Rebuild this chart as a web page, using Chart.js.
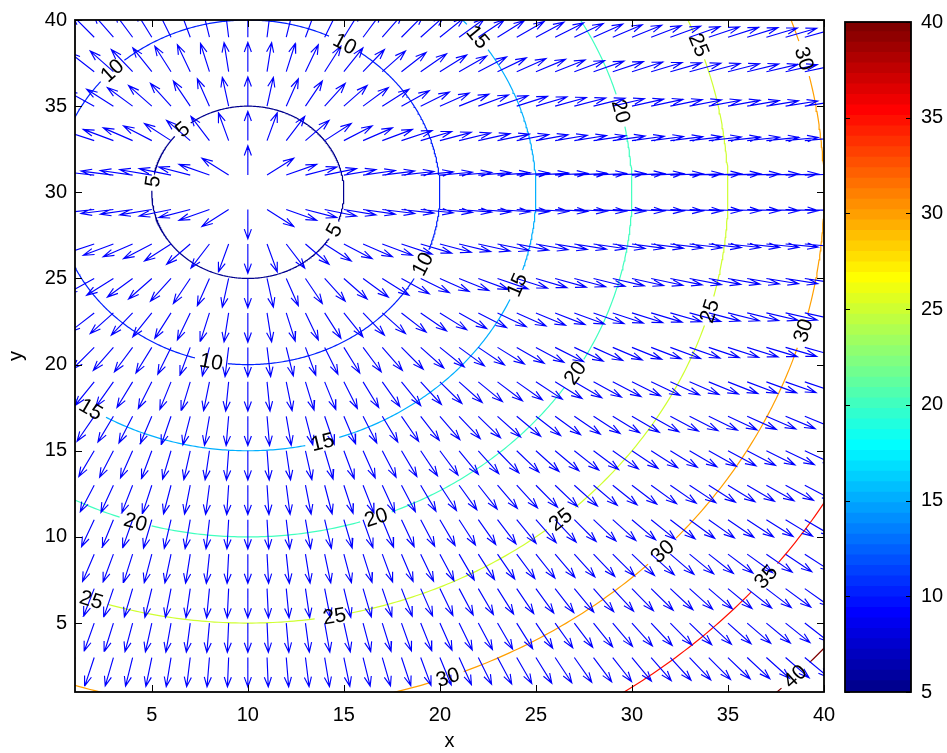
<!DOCTYPE html>
<html>
<head>
<meta charset="utf-8">
<script src="https://cdn.jsdelivr.net/npm/chart.js@4.4.1/dist/chart.umd.min.js"></script>
<style>
  html, body { margin: 0; padding: 0; background: #fff; }
  #wrap { position: relative; width: 947px; height: 753px; }
  #main, #cbar { position: absolute; top: 0; }
  #main { left: 0; }
  #cbar { left: 830px; }
</style>
</head>
<body>
<div id="wrap">
  <canvas id="main" width="947" height="753"></canvas>
  <canvas id="cbar" width="117" height="753"></canvas>
</div>
<script>
// distance field centred on one point, contoured every 5 and shown with its gradient arrows
const center = [10, 30];
const levels = [5, 10, 15, 20, 25, 30, 35, 40];
const gridX = [1, 2, 3, 4, 5, 6, 7, 8, 9, 10, 11, 12, 13, 14, 15, 16, 17, 18, 19, 20,
  21, 22, 23, 24, 25, 26, 27, 28, 29, 30, 31, 32, 33, 34, 35, 36, 37, 38, 39, 40];
const gridY = [1, 3, 5, 7, 9, 11, 13, 15, 17, 19, 21, 23, 25, 27, 29, 31, 33, 35, 37, 39];
const xTicks = [5, 10, 15, 20, 25, 30, 35, 40];
const yTicks = [5, 10, 15, 20, 25, 30, 35, 40];
const cbarTicks = [5, 10, 15, 20, 25, 30, 35, 40];
const cRange = [5, 40];

// where the inline contour labels sit (angle round the centre, degrees)
const labelAngles = {
  5: [133, 172.6, -26],
  10: [135, 59.6, -24.6, -101],
  15: [37, -21, -123, -75],
  20: [13.6, -31.6, -107, -70.5],
  25: [20, -16, -49.4, -79.6, -109],
  30: [15, -15.5, -44, -69.7],
  35: [-39.6],
  40: [-44.6]
};

const FONT = '"Liberation Sans", Arial, Helvetica, sans-serif';
const font20 = { family: FONT, size: 20 };

// matlab jet(64)
function jet(m) {
  const n = Math.ceil(m / 4);
  const u = [];
  for (let i = 1; i <= n; i++) u.push(i / n);
  for (let i = 1; i < n; i++) u.push(1);
  for (let i = n; i >= 1; i--) u.push(i / n);
  const g0 = Math.ceil(n / 2) - (m % 4 === 1 ? 1 : 0);
  const J = Array.from({ length: m }, () => [0, 0, 0]);
  u.forEach((val, k) => {
    const g = g0 + k + 1, r = g + n, b = g - n;
    if (g >= 1 && g <= m) J[g - 1][1] = val;
    if (r >= 1 && r <= m) J[r - 1][0] = val;
    if (b >= 1 && b <= m) J[b - 1][2] = val;
  });
  return J.map(c => `rgb(${Math.round(c[0] * 255)},${Math.round(c[1] * 255)},${Math.round(c[2] * 255)})`);
}
const cmap = jet(64);
const levelColor = lev => {
  let i = Math.floor((lev - cRange[0]) / (cRange[1] - cRange[0]) * 64);
  return cmap[Math.max(0, Math.min(63, i))];
};

// arrows
const dist = (x, y) => Math.hypot(x - center[0], y - center[1]);
const arrowLen = 1.7, headA = 0.33, headB = 0.33;
const gap = () => ({ x: NaN, y: NaN });
const arrowPts = [];
gridY.forEach(y => gridX.forEach(x => {
  let u = (dist(x + 1, y) - dist(x - 1, y)) / 2;
  let v = (dist(x, y + 2) - dist(x, y - 2)) / 4;
  const m = Math.hypot(u, v);
  if (!m) return;
  u = u / m * arrowLen;
  v = v / m * arrowLen;
  const tx = x + u, ty = y + v;
  arrowPts.push({ x, y }, { x: tx, y: ty }, gap(),
    { x: tx - headA * (u + headB * v), y: ty - headA * (v - headB * u) },
    { x: tx, y: ty },
    { x: tx - headA * (u - headB * v), y: ty - headA * (v + headB * u) }, gap());
}));

// contour circles, broken where the labels go
const contourSets = levels.map(lev => {
  const w = String(lev).length * 11.7;
  const half = ((w / 2 + 4) / (lev * 18.2)) * 180 / Math.PI;
  const gaps = labelAngles[lev] || [];
  const pts = [];
  for (let a = -180; a <= 180; a += 0.5) {
    const inGap = gaps.some(c => Math.abs((((a - c) % 360) + 540) % 360 - 180) < half);
    if (inGap) { pts.push(gap()); continue; }
    const r = a * Math.PI / 180;
    pts.push({ x: center[0] + lev * Math.cos(r), y: center[1] + lev * Math.sin(r) });
  }
  return {
    data: pts, showLine: true, pointRadius: 0, borderWidth: 1.2,
    borderColor: levelColor(lev), clip: 0, order: 2
  };
});

const setTicks = list => s => { s.ticks = list.map(v => ({ value: v })); };

const frameTicks = {
  id: 'frameTicks',
  afterDraw(chart, args, opts) {
    const { ctx, chartArea: a } = chart;
    const L = opts.len;
    ctx.save();
    ctx.strokeStyle = '#000';
    ctx.lineWidth = 1;
    ctx.beginPath();
    (opts.x || []).forEach(v => {
      const p = Math.round(chart.scales.x.getPixelForValue(v)) + 0.5;
      ctx.moveTo(p, a.bottom); ctx.lineTo(p, a.bottom - L);
      ctx.moveTo(p, a.top); ctx.lineTo(p, a.top + L);
    });
    (opts.y || []).forEach(v => {
      const p = Math.round(chart.scales.y.getPixelForValue(v)) + 0.5;
      ctx.moveTo(a.left, p); ctx.lineTo(a.left + L, p);
      ctx.moveTo(a.right, p); ctx.lineTo(a.right - L, p);
    });
    ctx.stroke();
    ctx.lineWidth = 1.8;
    ctx.strokeRect(a.left, a.top, a.right - a.left, a.bottom - a.top);
    ctx.restore();
  }
};

const contourLabels = {
  id: 'contourLabels',
  afterDatasetsDraw(chart) {
    const { ctx } = chart;
    const xs = chart.scales.x, ys = chart.scales.y;
    ctx.save();
    ctx.font = `21px ${FONT}`;
    ctx.fillStyle = '#000';
    ctx.textAlign = 'center';
    ctx.textBaseline = 'middle';
    levels.forEach(lev => (labelAngles[lev] || []).forEach(deg => {
      const r = deg * Math.PI / 180;
      const dx = center[0] + lev * Math.cos(r), dy = center[1] + lev * Math.sin(r);
      const px = xs.getPixelForValue(dx), py = ys.getPixelForValue(dy);
      const qx = xs.getPixelForValue(dx - Math.sin(r) * 0.1) - px;
      const qy = ys.getPixelForValue(dy + Math.cos(r) * 0.1) - py;
      let ang = Math.atan2(qy, qx);
      if (ang > Math.PI / 2) ang -= Math.PI;
      if (ang < -Math.PI / 2) ang += Math.PI;
      ctx.save();
      ctx.translate(px, py);
      ctx.rotate(ang);
      ctx.fillText(String(lev), 0, 1);
      ctx.restore();
    }));
    ctx.restore();
  }
};

new Chart(document.getElementById('main'), {
  type: 'scatter',
  data: {
    datasets: [
      { data: arrowPts, showLine: true, pointRadius: 0, borderWidth: 1.15,
        borderColor: 'rgb(0,0,255)', clip: 0, order: 1 },
      ...contourSets
    ]
  },
  options: {
    responsive: false,
    animation: false,
    events: [],
    layout: { padding: { left: 0, right: 123, top: 18, bottom: 0 } },
    plugins: {
      legend: { display: false },
      tooltip: { enabled: false },
      frameTicks: { x: xTicks, y: yTicks, len: 7 }
    },
    scales: {
      x: {
        type: 'linear', min: 1, max: 40,
        afterBuildTicks: setTicks(xTicks),
        afterFit: s => { s.height = 61; },
        grid: { display: false, drawTicks: false },
        border: { display: false },
        ticks: { padding: 11, font: font20, color: '#000', maxRotation: 0 },
        title: { display: true, text: 'x', font: font20, color: '#000', padding: 0 }
      },
      y: {
        type: 'linear', min: 1, max: 40,
        afterBuildTicks: setTicks(yTicks),
        afterFit: s => { s.width = 75; },
        grid: { display: false, drawTicks: false },
        border: { display: false },
        ticks: { padding: 8, font: font20, color: '#000' },
        title: { display: true, text: 'y', font: font20, color: '#000', padding: { top: 4, bottom: 0 } }
      }
    }
  },
  plugins: [contourLabels, frameTicks]
});

// colour bar
const step = (cRange[1] - cRange[0]) / cmap.length;
new Chart(document.getElementById('cbar'), {
  type: 'bar',
  data: {
    labels: [''],
    datasets: cmap.map((c, i) => ({
      data: [[cRange[0] + i * step, Math.min(cRange[1], cRange[0] + (i + 1) * step + 0.05)]],
      backgroundColor: c, borderWidth: 0, grouped: false,
      barPercentage: 1, categoryPercentage: 1
    }))
  },
  options: {
    responsive: false,
    animation: false,
    events: [],
    layout: { padding: { left: 15, right: 0, top: 18, bottom: 61 } },
    plugins: {
      legend: { display: false },
      tooltip: { enabled: false },
      frameTicks: { y: cbarTicks, len: 5 }
    },
    scales: {
      x: { display: false },
      y: {
        position: 'right', min: cRange[0], max: cRange[1],
        afterBuildTicks: setTicks(cbarTicks),
        afterFit: s => { s.width = 36; },
        grid: { display: false, drawTicks: false },
        border: { display: false },
        ticks: { padding: 10, font: font20, color: '#000' }
      }
    }
  },
  plugins: [frameTicks]
});
</script>
</body>
</html>
